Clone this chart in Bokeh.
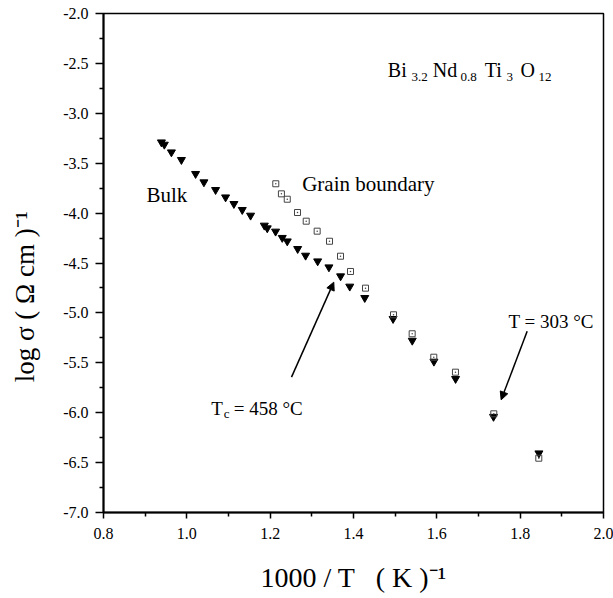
import math
from bokeh.plotting import figure
from bokeh.models import Range1d, FixedTicker, PrintfTickFormatter, Label, Arrow, NormalHead, ColumnDataSource
from bokeh.embed import file_html
from bokeh.resources import INLINE

# ---- data ----
bulk_x = [0.939, 0.946, 0.963, 0.987, 1.021, 1.041, 1.069, 1.093, 1.113, 1.133,
          1.153, 1.186, 1.193, 1.213, 1.229, 1.241, 1.266, 1.285, 1.314, 1.341,
          1.369, 1.391, 1.427, 1.495, 1.541, 1.593, 1.645, 1.736, 1.845]
bulk_y = [-3.29, -3.313, -3.39, -3.466, -3.606, -3.69, -3.767, -3.841, -3.907, -3.967,
          -4.024, -4.124, -4.151, -4.184, -4.247, -4.282, -4.358, -4.425, -4.482, -4.542,
          -4.632, -4.735, -4.849, -5.059, -5.277, -5.487, -5.66, -6.04, -6.406]

gb_x = [1.2135, 1.227, 1.241, 1.2656, 1.2865, 1.3128, 1.3424, 1.3688, 1.3928, 1.4288,
        1.496, 1.5408, 1.5927, 1.6447, 1.7367, 1.8447]
gb_y = [-3.706, -3.807, -3.861, -3.994, -4.081, -4.181, -4.282, -4.432, -4.585, -4.752,
        -5.019, -5.209, -5.444, -5.594, -6.011, -6.456]

x_major_ticks = [0.8, 1.0, 1.2, 1.4, 1.6, 1.8, 2.0]
x_minor_ticks = [0.9, 1.1, 1.3, 1.5, 1.7, 1.9]
y_major_ticks = [-7.0, -6.5, -6.0, -5.5, -5.0, -4.5, -4.0, -3.5, -3.0, -2.5, -2.0]
y_minor_ticks = [-6.75, -6.25, -5.75, -5.25, -4.75, -4.25, -3.75, -3.25, -2.75, -2.25]

x_title = "1000 / T\u00a0\u00a0\u00a0( K )\u207b\u00b9"
y_title = "log σ ( Ω cm )\u207b\u00b9"

FONT = "Liberation Serif"

p = figure(width=613, height=598, x_range=Range1d(0.8, 2.0), y_range=Range1d(-7.0, -2.0),
           output_backend="svg", toolbar_location=None,
           min_border_left=103, min_border_right=10, min_border_top=13, min_border_bottom=86)
p.xgrid.visible = False
p.ygrid.visible = False
p.background_fill_color = "white"
p.border_fill_color = "white"
p.outline_line_color = "black"
p.outline_line_width = 1.5

for axes, major, minor in ((p.xaxis, x_major_ticks, x_minor_ticks), (p.yaxis, y_major_ticks, y_minor_ticks)):
    axes.ticker = FixedTicker(ticks=major, minor_ticks=minor)
    axes.formatter = PrintfTickFormatter(format="%.1f")
    axes.axis_line_width = 2
    axes.axis_line_color = "black"
    axes.major_tick_line_color = "black"
    axes.minor_tick_line_color = "black"
    axes.major_tick_line_width = 1.5
    axes.minor_tick_line_width = 1.5
    axes.major_tick_in = 0
    axes.minor_tick_in = 0
    axes.major_label_text_font = FONT
    axes.major_label_text_font_size = "16px"
    axes.major_label_text_color = "black"
    axes.axis_label_text_font = FONT
    axes.axis_label_text_font_style = "normal"
    axes.axis_label_text_color = "black"

p.xaxis.axis_label = x_title
# trailing no-break spaces shift the rotated title downwards, as in the reference
p.yaxis.axis_label = y_title + "\u00a0" * 10
p.xaxis.axis_label_text_font_size = "28px"
p.yaxis.axis_label_text_font_size = "27px"
p.xaxis.axis_label_standoff = 20
p.yaxis.axis_label_standoff = 20

p.xaxis.major_tick_out = 6
p.xaxis.minor_tick_out = 4
p.xaxis.major_label_standoff = 9
p.yaxis.major_tick_out = 8
p.yaxis.minor_tick_out = 4
p.yaxis.major_label_standoff = 7

src_b = ColumnDataSource(dict(x=bulk_x, y=bulk_y))
src_g = ColumnDataSource(dict(x=gb_x, y=gb_y))
p.scatter("x", "y", source=src_b, marker="inverted_triangle", size=8,
          fill_color="black", line_color="black")
p.scatter("x", "y", source=src_g, marker="square_dot", size=6,
          fill_color=None, line_color="#444444", line_width=1)

def lab(x, y, text, size, align="left", baseline="alphabetic", angle=0.0):
    p.add_layout(Label(x=x, y=y, text=text, text_font=FONT, text_font_size=f"{size}px",
                       text_color="black", text_align=align, text_baseline=baseline,
                       angle=angle))

# in-plot texts
lab(0.9032, -3.814, "Bulk", 21)
lab(1.2768, -3.706, "Grain boundary", 21)

lab(1.4823, -2.564, "Bi", 20)
lab(1.5392, -2.638, "3.2", 13)
lab(1.5903, -2.564, "Nd", 20)
lab(1.6568, -2.638, "0.8", 13)
lab(1.7151, -2.564, "Ti", 20)
lab(1.7672, -2.638, "3", 13)
lab(1.8008, -2.564, "O", 20)
lab(1.8440, -2.638, "12", 13)

lab(1.772, -5.083, "T = 303 °C", 19)
lab(1.0585, -5.955, "T", 19)
lab(1.0887, -6.01, "c", 13)
lab(1.1127, -5.955, "= 458 °C", 19)

# arrows
p.add_layout(Arrow(x_start=1.2512, y_start=-5.644, x_end=1.3527, y_end=-4.692,
                   line_width=1.5, line_color="black",
                   end=NormalHead(size=8, fill_color="black", line_color="black", line_width=1)))
p.add_layout(Arrow(x_start=1.8168, y_start=-5.183, x_end=1.7544, y_end=-5.871,
                   line_width=1.5, line_color="black",
                   end=NormalHead(size=8, fill_color="black", line_color="black", line_width=1)))

open("out.html", "w").write(file_html(p, INLINE))
